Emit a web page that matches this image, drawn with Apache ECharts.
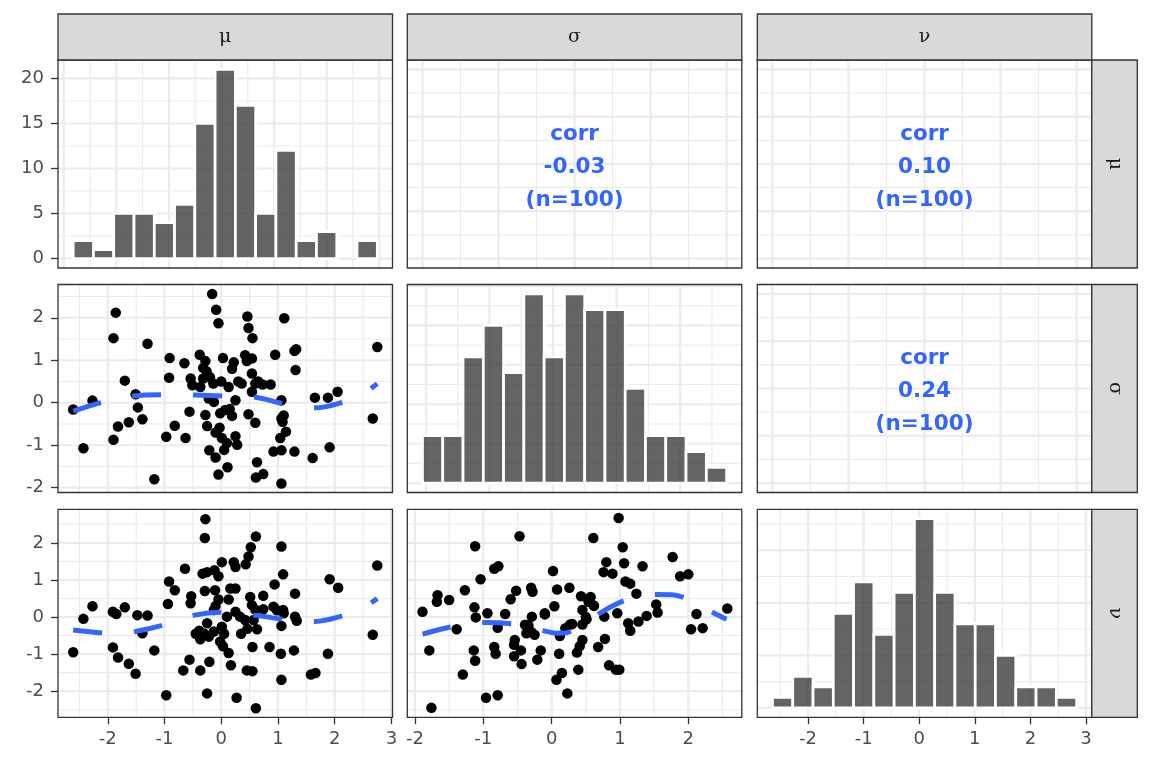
<!DOCTYPE html>
<html lang="en">
<head>
<meta charset="UTF-8">
<title>pairs</title>
<script src="https://cdn.jsdelivr.net/npm/echarts@6.0.0/dist/echarts.min.js"></script>
<style>html,body{margin:0;padding:0;background:#fff;}</style>
</head>
<body>
<div id="main" style="width:1152px;height:768px;"></div>
<script>
// ---- data ----
var varNames = ['μ', 'σ', 'ν']

// data range of each variable (min, max)
var muRange = [-2.61, 2.75]
var sigmaRange = [-1.89, 2.56]
var nuRange = [-2.45, 2.65]

// histograms: first bin start, bin width, counts
var muBins = [-2.82, 0.3855]
var muCounts = [2, 1, 5, 5, 4, 6, 15, 21, 17, 5, 12, 2, 3, 0, 2]
var sigmaBins = [-2.054, 0.319]
var sigmaCounts = [3, 3, 8, 10, 7, 12, 8, 12, 11, 11, 6, 3, 3, 2, 1]
var nuBins = [-2.64, 0.3647]
var nuCounts = [1, 3, 2, 9, 12, 7, 11, 18, 11, 8, 8, 5, 2, 2, 1]

// correlation labels (upper panels: μ-σ, μ-ν, σ-ν)
var corrValues = ['-0.03', '0.10', '0.24']
var nObs = 100

// tick values
var muTicks = [-2, -1, 0, 1, 2, 3]
var sigmaTicks = [-2, -1, 0, 1, 2]
var nuTicks = [-2, -1, 0, 1, 2]
var muHistTicks = [-3, -2, -1, 0, 1, 2, 3]
var sigmaHistTicks = [-2, -1, 0, 1, 2]
var nuHistTicks = [-2, -1, 0, 1, 2, 3]
var muCountTicks = [0, 5, 10, 15, 20]
var sigmaCountTicks = [0, 2.5, 5, 7.5, 10, 12.5]
var nuCountTicks = [0, 5, 10, 15]
var corrTicks = [0, 0.25, 0.5, 0.75, 1]

var muSigmaPts = [[-2.61,-0.16],[-2.27,0.05],[-2.43,-1.07],[-1.86,2.12],[-1.90,1.52],[-1.90,-0.87],[-1.82,-0.56],[-1.70,0.52],[-1.63,-0.46],[-1.51,0.20],
  [-1.47,-0.11],[-1.39,-0.39],[-1.30,1.39],[-1.18,-1.80],[-0.97,-0.80],[-0.92,0.59],[-0.91,1.05],[-0.82,-0.54],[-0.65,0.93],[-0.63,-0.83],
  [-0.54,0.57],[-0.51,0.41],[-0.56,-0.21],[-0.38,1.13],[-0.32,0.82],[-0.28,0.98],[-0.37,0.37],[-0.32,0.57],[-0.26,0.74],[-0.14,0.45],
  [-0.28,-0.29],[-0.25,-0.55],[-0.16,2.56],[-0.09,2.19],[-0.05,1.87],[-0.22,0.10],[-0.13,0.02],[-0.21,-1.12],[-0.10,-1.29],[-0.05,-1.69],
  [-0.02,-0.25],[-0.03,-0.59],[0.01,-0.83],[0.03,1.05],[0.05,-1.11],[0.07,-0.17],[0.13,0.37],[0.19,-0.31],[0.11,-1.52],[0.19,0.80],
  [0.22,0.95],[0.25,0.06],[0.25,-0.79],[0.28,-0.99],[0.36,0.45],[0.42,1.12],[0.46,2.03],[0.48,1.76],[0.45,0.98],[0.54,1.04],
  [0.55,1.52],[0.54,0.69],[0.60,0.45],[0.54,0.26],[0.48,-0.27],[0.60,-0.47],[0.63,-1.40],[0.61,-1.76],[0.74,-1.68],[0.73,0.43],
  [0.87,0.43],[0.95,1.13],[1.11,1.99],[1.06,0.06],[1.06,-0.37],[1.08,-0.45],[1.14,-0.68],[1.04,-0.83],[0.92,-1.15],[1.06,-1.12],
  [1.06,-1.90],[1.29,1.22],[1.32,1.26],[1.31,0.77],[1.29,-1.15],[1.61,-1.30],[1.65,0.12],[1.88,0.12],[2.05,0.26],[1.91,-1.05],
  [2.67,-0.37],[2.75,1.31],[0.10,-0.95],[-0.20,0.60],[0.00,0.50],[0.30,0.50],[0.15,-0.15],[-0.10,-0.70],[0.65,0.50],[1.10,-0.30]]

var muNuPts = [[-2.61,-0.95],[-2.43,-0.05],[-2.27,0.29],[-1.91,0.14],[-1.85,0.08],[-1.70,0.26],[-1.91,-0.82],[-1.82,-1.09],[-1.63,-1.26],[-1.51,-1.53],
  [-1.48,0.05],[-1.30,0.04],[-1.39,-0.44],[-1.18,-0.90],[-0.97,-2.11],[-0.92,0.96],[-0.82,0.72],[-0.94,0.35],[-0.64,1.30],[-0.53,0.56],
  [-0.54,0.37],[-0.56,-1.15],[-0.67,-1.44],[-0.37,-1.44],[-0.28,2.64],[-0.29,2.13],[-0.33,1.17],[-0.25,1.21],[-0.12,1.26],[-0.05,1.10],
  [0.01,1.48],[0.22,1.48],[0.25,1.35],[0.43,1.42],[0.48,1.63],[0.52,1.88],[0.61,2.17],[1.06,1.90],[1.09,1.15],[0.94,0.88],
  [0.74,0.57],[0.51,0.54],[0.54,0.32],[-0.29,0.70],[-0.11,0.72],[-0.05,0.47],[0.13,0.47],[0.16,0.77],[0.25,0.77],[1.30,0.63],
  [0.92,0.28],[1.09,0.19],[1.30,0.01],[1.33,-0.10],[1.06,-0.24],[0.85,-0.81],[0.55,-0.81],[1.05,-0.99],[1.28,-0.90],[1.06,-1.69],
  [0.45,-1.44],[0.55,-1.46],[0.17,-1.30],[0.13,-0.97],[-0.21,-1.21],[-0.25,-2.06],[0.27,-2.18],[0.61,-2.46],[1.58,-1.55],[1.66,-1.51],
  [1.88,-0.99],[1.91,1.02],[2.06,0.79],[2.75,1.39],[2.67,-0.48],[-0.39,-0.37],[-0.37,-0.60],[-0.22,-0.53],[-0.13,-0.39],[0.01,-0.26],
  [-0.02,-0.66],[0.03,-0.79],[-0.25,-0.17],[0.74,0.21],[0.25,0.14],[0.42,-0.08],[0.46,-0.32],[0.63,-0.33],[0.33,0.01],[0.57,-0.08],
  [0.98,0.18],[-0.13,0.19],[0.10,0.01],[-0.45,-0.45],[-0.30,-0.45],[0.05,-0.45],[0.35,-0.45],[-0.10,0.30],[0.60,0.20],[1.10,0.10]]

var sigmaNuPts = [[-1.89,0.14],[-1.79,-0.90],[-1.76,-2.45],[-1.67,0.59],[-1.68,0.41],[-1.50,0.46],[-1.39,-0.33],[-1.30,-1.55],[-1.27,0.72],[-1.12,1.91],
  [-1.13,0.26],[-1.11,-0.01],[-1.14,-0.90],[-1.12,-1.18],[-1.04,1.02],[-0.96,-2.18],[-0.94,0.10],[-0.84,-0.81],[-0.82,-0.99],[-0.84,1.30],
  [-0.78,1.37],[-0.79,-0.29],[-0.79,-2.11],[-0.68,0.08],[-0.60,0.48],[-0.52,0.71],[-0.47,2.18],[-0.55,-0.75],[-0.54,-0.62],[-0.55,-1.06],
  [-0.44,-1.27],[-0.39,-0.21],[-0.37,-0.44],[-0.30,0.79],[-0.28,0.68],[-0.29,0.01],[-0.25,-0.48],[-0.21,-1.15],[-0.16,-0.90],[-0.10,0.07],
  [0.02,1.24],[0.04,0.29],[0.08,0.74],[0.11,-0.99],[0.12,-0.51],[0.07,-1.69],[0.15,-1.51],[0.23,-2.06],[0.26,0.79],[0.27,-0.20],
  [0.37,-0.96],[0.39,-1.42],[0.41,-0.79],[0.45,-0.62],[0.43,0.56],[0.45,0.19],[0.51,-0.06],[0.57,0.54],[0.61,0.32],[0.54,0.41],
  [0.61,2.13],[0.68,-0.81],[0.78,-0.59],[0.77,0.01],[0.80,1.48],[0.76,1.21],[0.89,1.17],[0.84,-1.30],[0.94,-1.42],[0.99,-1.42],
  [0.98,2.67],[1.04,1.88],[1.06,1.45],[1.08,0.96],[1.15,0.90],[1.24,0.63],[0.96,0.10],[1.12,-0.17],[1.15,-0.37],[1.27,-0.12],
  [1.39,0.03],[1.33,1.37],[1.53,0.34],[1.55,0.12],[1.77,1.62],[1.88,1.10],[2.00,1.15],[2.04,-0.33],[2.12,0.08],[2.21,-0.30],
  [2.57,0.23],[-0.30,-0.40],[-0.34,-0.23],[0.30,-0.19],[0.62,0.30],[-0.10,0.10],[0.50,0.00],[0.45,-0.20],[0.20,-0.30],[-0.45,-0.90]]

// loess smooths (dashed blue)
var muSigmaSmooth = [[-2.61,-0.20],[-2.10,0.01],[-1.55,0.16],[-1.03,0.19],[-0.47,0.18],[0.03,0.16],[0.60,0.13],[1.09,-0.02],[1.66,-0.12],[2.16,0.02],[2.45,0.17],[2.75,0.45]]
var muNuSmooth = [[-2.61,-0.35],[-2.08,-0.43],[-1.80,-0.44],[-1.51,-0.39],[-1.01,-0.21],[-0.47,0.05],[0.03,0.13],[0.60,0.05],[1.09,-0.06],[1.66,-0.12],[2.18,0.05],[2.45,0.20],[2.75,0.50]]
var sigmaNuSmooth = [[-1.89,-0.46],[-1.48,-0.27],[-1.01,-0.15],[-0.57,-0.19],[-0.12,-0.37],[0.10,-0.44],[0.31,-0.37],[0.70,0.10],[1.08,0.45],[1.54,0.61],[1.76,0.60],[1.97,0.50],[2.38,0.10],[2.56,-0.06]]

// ---- layout ----
var colLeft = [58, 407.3, 757.3]
var rowTop = [60, 284.5, 509.3]
var panelW = 334.5
var panelH = 208

function pad(r) {
    var d = (r[1] - r[0]) * 0.05
    return [r[0] - d, r[1] + d]
}
function binRange(b, counts) {
    return pad([b[0], b[0] + b[1] * counts.length])
}
function minors(ticks, r) {
    var step = ticks[1] - ticks[0]
    var out = []
    var v = ticks[0] - step / 2
    while (v <= r[1]) {
        if (v >= r[0]) out.push(v)
        v += step
    }
    return out
}

var corrR = [-0.05, 1.05]
// panels: [row, col, xRange, yRange, xTicks, yTicks]
var panels = [
    [0, 0, binRange(muBins, muCounts), [-1.05, 22.05], muHistTicks, muCountTicks],
    [0, 1, corrR, corrR, corrTicks, corrTicks],
    [0, 2, corrR, corrR, corrTicks, corrTicks],
    [1, 0, pad(muRange), pad(sigmaRange), muTicks, sigmaTicks],
    [1, 1, binRange(sigmaBins, sigmaCounts), [-0.6, 12.6], sigmaHistTicks, sigmaCountTicks],
    [1, 2, corrR, corrR, corrTicks, corrTicks],
    [2, 0, pad(muRange), pad(nuRange), muTicks, nuTicks],
    [2, 1, pad(sigmaRange), pad(nuRange), sigmaTicks, nuTicks],
    [2, 2, binRange(nuBins, nuCounts), [-0.9, 18.9], nuHistTicks, nuCountTicks]
]

var labelFont = { color: '#4D4D4D', fontSize: 18, fontFamily: 'DejaVu Sans' }
var grids = [], xAxes = [], yAxes = [], series = [], graphics = []

panels.forEach(function (p, i) {
    var r = p[0], c = p[1]
    grids.push({ left: colLeft[c], top: rowTop[r], width: panelW, height: panelH, show: false })
    var showX = r === 2, showY = c === 0
    xAxes.push({
        type: 'value', gridIndex: i, min: p[2][0], max: p[2][1], position: 'bottom',
        axisLine: { show: false, onZero: false },
        axisTick: { show: showX, length: 7, customValues: p[4], lineStyle: { color: '#333', width: 1.3 } },
        axisLabel: Object.assign({ show: showX, margin: 13, customValues: p[4] }, labelFont),
        splitLine: { show: false }
    })
    yAxes.push({
        type: 'value', gridIndex: i, min: p[3][0], max: p[3][1], position: 'left',
        axisLine: { show: false, onZero: false },
        axisTick: { show: showY, length: 7, customValues: p[5], lineStyle: { color: '#333', width: 1.3 } },
        axisLabel: Object.assign({ show: showY, margin: 14, customValues: p[5] }, labelFont),
        splitLine: { show: false }
    })

    // grid lines as a custom series
    var items = []
    p[4].forEach(function (v) { items.push([v, 0, 1]) })
    minors(p[4], p[2]).forEach(function (v) { items.push([v, 0, 0]) })
    p[5].forEach(function (v) { items.push([v, 1, 1]) })
    minors(p[5], p[3]).forEach(function (v) { items.push([v, 1, 0]) })
    var xr = p[2], yr = p[3]
    series.push({
        type: 'custom', xAxisIndex: i, yAxisIndex: i, z: 1, silent: true,
        data: items,
        renderItem: function (params, api) {
            var cs = params.coordSys
            var v = api.value(0), lw = api.value(2) ? 2.2 : 1.1
            if (api.value(1) === 0) {
                var x = api.coord([v, yr[0]])[0]
                return { type: 'line', shape: { x1: x, y1: cs.y, x2: x, y2: cs.y + cs.height }, style: { stroke: '#EBEBEB', lineWidth: lw } }
            }
            var y = api.coord([xr[0], v])[1]
            return { type: 'line', shape: { x1: cs.x, y1: y, x2: cs.x + cs.width, y2: y }, style: { stroke: '#EBEBEB', lineWidth: lw } }
        }
    })

    // panel border
    graphics.push({
        type: 'rect', z: 100, silent: true,
        shape: { x: colLeft[c], y: rowTop[r], width: panelW, height: panelH },
        style: { fill: 'none', stroke: '#333333', lineWidth: 1.3 }
    })
})

// histograms
function histSeries(gi, bins, counts) {
    var d = counts.map(function (n, k) {
        return [bins[0] + k * bins[1], bins[0] + (k + 1) * bins[1], n]
    })
    return {
        type: 'custom', xAxisIndex: gi, yAxisIndex: gi, z: 2, silent: true,
        encode: { x: [0, 1], y: 2 },
        data: d,
        renderItem: function (params, api) {
            if (api.value(2) === 0) return
            var a = api.coord([api.value(0), api.value(2)])
            var b = api.coord([api.value(1), 0])
            return {
                type: 'rect',
                shape: { x: a[0], y: a[1], width: b[0] - a[0], height: b[1] - a[1] },
                style: { fill: 'rgba(51,51,51,0.76)', stroke: '#ffffff', lineWidth: 2.7 }
            }
        }
    }
}
series.push(histSeries(0, muBins, muCounts))
series.push(histSeries(4, sigmaBins, sigmaCounts))
series.push(histSeries(8, nuBins, nuCounts))

// scatter panels
function pointSeries(gi, pts) {
    return { type: 'scatter', xAxisIndex: gi, yAxisIndex: gi, z: 3, silent: true, symbolSize: 10.5, itemStyle: { color: '#000000', opacity: 1 }, data: pts }
}
function smoothSeries(gi, pts) {
    return {
        type: 'line', xAxisIndex: gi, yAxisIndex: gi, z: 4, silent: true, smooth: 0.35,
        showSymbol: false, symbol: 'none',
        lineStyle: { color: '#3366FF', width: 5, type: [29, 32], cap: 'butt' },
        data: pts
    }
}
series.push(pointSeries(3, muSigmaPts), smoothSeries(3, muSigmaSmooth))
series.push(pointSeries(6, muNuPts), smoothSeries(6, muNuSmooth))
series.push(pointSeries(7, sigmaNuPts), smoothSeries(7, sigmaNuSmooth))

// correlation text
;[1, 2, 5].forEach(function (gi, k) {
    series.push({
        type: 'scatter', xAxisIndex: gi, yAxisIndex: gi, z: 5, silent: true, symbolSize: 0,
        data: [[0.5, 0.5]],
        label: {
            show: true, position: 'inside', offset: [0, 3],
            formatter: 'corr\n' + corrValues[k] + '\n(n=' + nObs + ')',
            color: '#3366FF', fontSize: 21.5, fontWeight: 'bold', fontFamily: 'DejaVu Sans', lineHeight: 33, align: 'center',
            textBorderWidth: 0, textBorderColor: 'transparent', opacity: 1
        }
    })
})

// strips
varNames.forEach(function (name, k) {
    graphics.push({
        type: 'rect', z: 100, silent: true,
        shape: { x: colLeft[k], y: 14, width: panelW, height: 46 },
        style: { fill: '#D9D9D9', stroke: '#333333', lineWidth: 1.3 }
    })
    graphics.push({
        type: 'text', z: 101, silent: true, x: colLeft[k] + panelW / 2, y: 37,
        style: { text: name, fill: '#1A1A1A', font: '19px "DejaVu Serif"', align: 'center', verticalAlign: 'middle' }
    })
    graphics.push({
        type: 'rect', z: 100, silent: true,
        shape: { x: 1091.8, y: rowTop[k], width: 45.5, height: panelH },
        style: { fill: '#D9D9D9', stroke: '#333333', lineWidth: 1.3 }
    })
    graphics.push({
        type: 'text', z: 101, silent: true, x: 1114.5, y: rowTop[k] + panelH / 2, rotation: -Math.PI / 2,
        style: { text: name, fill: '#1A1A1A', font: '19px "DejaVu Serif"', align: 'center', verticalAlign: 'middle' }
    })
})

var myChart = echarts.init(document.getElementById('main'))
myChart.setOption({
    backgroundColor: '#ffffff',
    animation: false,
    grid: grids,
    xAxis: xAxes,
    yAxis: yAxes,
    series: series,
    graphic: { elements: graphics }
})
</script>
</body>
</html>
